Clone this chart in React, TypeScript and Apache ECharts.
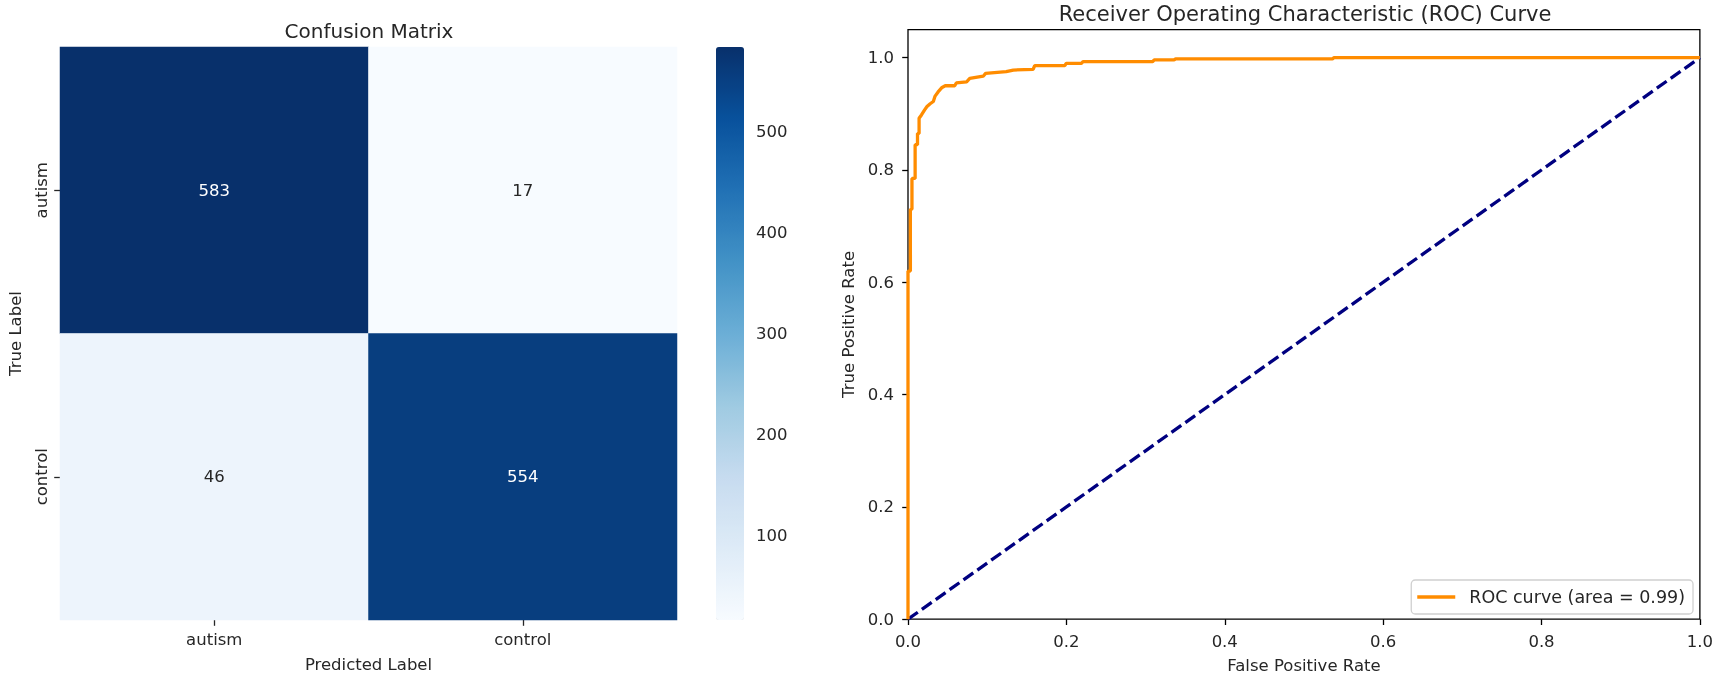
import React, { useEffect, useRef } from "react";
import * as echarts from "echarts";

// ---------- data ----------
const cmCategories = ["autism", "control"];
const cmRowAutism = [583, 17];
const cmRowControl = [46, 554];
const cmMin = 17;
const cmMax = 583;
const colorbarTicks = [100, 200, 300, 400, 500];
const bluesStops = ["#f7fbff", "#deebf7", "#c6dbef", "#9ecae1", "#6baed6", "#4292c6", "#2171b5", "#08519c", "#08306b"];

const rocFpr = [0, 0, 0.003, 0.003, 0.005, 0.005, 0.009, 0.009, 0.012, 0.012, 0.014, 0.014, 0.017, 0.021, 0.024, 0.028, 0.032, 0.034, 0.038, 0.043, 0.047, 0.059, 0.061, 0.074, 0.078, 0.095, 0.098, 0.124, 0.133, 0.158, 0.160, 0.198, 0.200, 0.219, 0.221, 0.309, 0.311, 0.336, 0.338, 0.536, 0.538, 1.0];
const rocTpr = [0, 0.62, 0.62, 0.73, 0.73, 0.785, 0.785, 0.845, 0.845, 0.865, 0.865, 0.892, 0.898, 0.907, 0.913, 0.918, 0.922, 0.931, 0.939, 0.947, 0.950, 0.950, 0.955, 0.957, 0.963, 0.967, 0.972, 0.975, 0.978, 0.979, 0.986, 0.986, 0.990, 0.990, 0.993, 0.993, 0.996, 0.996, 0.998, 0.998, 1.0, 1.0];
const chanceX = [0, 1];
const chanceY = [0, 1];
const rocTicks = [0, 0.2, 0.4, 0.6, 0.8, 1.0];
const rocLegend = "ROC curve (area = 0.99)";
const cmTitle = "Confusion Matrix";
const rocTitle = "Receiver Operating Characteristic (ROC) Curve";

const FONT = "DejaVu Sans";
const TXT = "#262626";
const FS = 16.5;

export default function App() {
  const ref = useRef<HTMLDivElement>(null);
  useEffect(() => {
    if (!ref.current) return;
    const chart = echarts.init(ref.current, undefined, { renderer: "svg" });
    const rows = [cmRowAutism, cmRowControl];
    const mid = (cmMin + cmMax) / 2;
    const heatData: any[] = [];
    rows.forEach((row, yi) =>
      row.forEach((v, xi) => {
        heatData.push({ value: [xi, yi, v], label: { color: v > mid ? "#ffffff" : TXT } });
      })
    );
    const rocData = rocFpr.map((x, i) => [x, rocTpr[i]]);
    const chanceData = chanceX.map((x, i) => [x, chanceY[i]]);
    const tickStyle = { color: TXT, width: 1.3 };
    const labelStyle = { fontSize: FS, color: TXT, fontFamily: FONT };

    chart.setOption({
      animation: false,
      textStyle: { fontFamily: FONT },
      grid: [
        { left: 60, top: 47, width: 617, height: 573 },
        { left: 716, top: 47, width: 28, height: 573 },
        { left: 908, top: 29.6, width: 793.5, height: 589.6, show: true, borderColor: "#000", borderWidth: 1.3, backgroundColor: "transparent" },
      ],
      xAxis: [
        {
          gridIndex: 0, type: "category", data: cmCategories,
          axisLine: { show: false },
          axisTick: { show: true, alignWithLabel: true, length: 5.8, lineStyle: tickStyle },
          axisLabel: { ...labelStyle, margin: 11 },
          name: "Predicted Label", nameLocation: "middle", nameGap: 36,
          nameTextStyle: labelStyle,
        },
        { gridIndex: 1, type: "value", show: false, min: 0, max: 1 },
        {
          gridIndex: 2, type: "value", min: 0, max: 1, interval: 0.2,
          axisLine: { show: false },
          axisTick: { show: true, length: 5.8, lineStyle: { color: "#000", width: 1.3 } },
          axisLabel: { ...labelStyle, margin: 14, formatter: (v: number) => v.toFixed(1) },
          splitLine: { show: false },
          name: "False Positive Rate", nameLocation: "middle", nameGap: 38,
          nameTextStyle: labelStyle,
        },
      ],
      yAxis: [
        {
          gridIndex: 0, type: "category", data: cmCategories, inverse: true,
          axisLine: { show: false },
          axisTick: { show: true, alignWithLabel: true, length: 5.8, lineStyle: tickStyle },
          axisLabel: { ...labelStyle, rotate: 90, margin: 10 },
          name: "True Label", nameLocation: "middle", nameGap: 36, nameRotate: 90,
          nameTextStyle: labelStyle,
        },
        {
          gridIndex: 1, type: "value", position: "right", min: cmMin, max: cmMax,
          axisLine: { show: false },
          axisTick: { show: true, length: 5.8, lineStyle: tickStyle, customValues: colorbarTicks },
          axisLabel: { ...labelStyle, margin: 12, customValues: colorbarTicks },
          splitLine: { show: false },
        },
        {
          gridIndex: 2, type: "value", min: 0, max: 1.05, interval: 0.2,
          axisLine: { show: false },
          axisTick: { show: true, length: 5.8, lineStyle: { color: "#000", width: 1.3 }, customValues: rocTicks },
          axisLabel: { ...labelStyle, margin: 14, customValues: rocTicks, formatter: (v: number) => (v > 1.0001 ? "" : v.toFixed(1)) },
          splitLine: { show: false },
          name: "True Positive Rate", nameLocation: "middle", nameGap: 51, nameRotate: 90,
          nameTextStyle: labelStyle,
        },
      ],
      visualMap: {
        type: "continuous", seriesIndex: 0, dimension: 2,
        min: cmMin, max: cmMax, calculable: false, realtime: false,
        left: 716, top: 47, itemWidth: 28, itemHeight: 573, padding: 0,
        text: null, showLabel: false, hoverLink: false,
        inRange: { color: bluesStops },
      },
      legend: {
        data: [{ name: rocLegend, icon: "rect" }],
        right: 23, top: 580, padding: [8, 8, 8, 6],
        itemWidth: 38, itemHeight: 3.3,
        borderColor: "#d0d0d0", borderWidth: 1.3, borderRadius: 4,
        backgroundColor: "rgba(255,255,255,0.8)",
        textStyle: { ...labelStyle, fontSize: 17.5, padding: [0, 0, 0, 9] },
      },
      graphic: [
        { type: "text", x: 369, y: 31, style: { text: cmTitle, align: "center", verticalAlign: "middle", fontSize: 20, fill: TXT, fontFamily: FONT } },
        { type: "text", x: 1305, y: 14, style: { text: rocTitle, align: "center", verticalAlign: "middle", fontSize: 21, fill: TXT, fontFamily: FONT } },
      ],
      series: [
        {
          type: "heatmap", xAxisIndex: 0, yAxisIndex: 0, data: heatData,
          label: { show: true, fontSize: FS, fontFamily: FONT },
          itemStyle: { borderWidth: 0 },
          emphasis: { disabled: true },
        },
        {
          type: "line", name: rocLegend, xAxisIndex: 2, yAxisIndex: 2, data: rocData,
          showSymbol: false, symbol: "none",
          lineStyle: { color: "#ff8c00", width: 3.3 },
          itemStyle: { color: "#ff8c00" },
          z: 3,
        },
        {
          type: "line", name: "chance", xAxisIndex: 2, yAxisIndex: 2, data: chanceData,
          showSymbol: false, symbol: "none",
          lineStyle: { color: "#000080", width: 3.3, type: [12, 5] },
          itemStyle: { color: "#000080" },
          z: 2,
        },
      ],
    });
    return () => chart.dispose();
  }, []);
  return <div ref={ref} style={{ position: "fixed", left: 0, top: 0, width: 1716, height: 680 }} />;
}
